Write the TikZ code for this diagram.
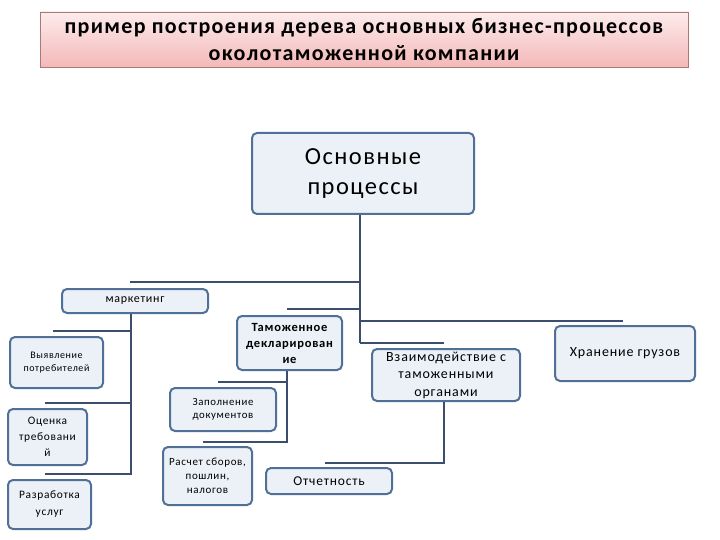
\documentclass[tikz,border=0pt]{standalone}
\usepackage{fontspec}
\setmainfont{Carlito}[LetterSpace=6]
\definecolor{boxline}{RGB}{80,112,152}
\definecolor{boxfill}{RGB}{236,241,248}
\definecolor{conncol}{RGB}{60,78,110}
\definecolor{titletop}{RGB}{253,236,236}
\definecolor{titlebot}{RGB}{244,184,184}
\definecolor{titleline}{RGB}{170,120,120}
\tikzset{
  box/.style={draw=boxline, line width=2pt, rounded corners=5pt, fill=boxfill, align=center, inner sep=0pt},
  conn/.style={draw=conncol, line width=2pt}
}
\begin{document}
\begin{tikzpicture}[x=1pt,y=-1pt]
\useasboundingbox (0,0) rectangle (720,540);
% title
\node[draw=titleline, line width=0.6pt, top color=titletop, bottom color=titlebot, minimum width=648pt, minimum height=55pt, align=center, inner sep=0pt,
      font=\fontsize{22}{27}\selectfont\bfseries] (title) at (364,39.5)
  {пример построения дерева основных бизнес-процессов\\околотаможенной компании};
% main
\node[box, minimum width=222pt, minimum height=81pt, font=\fontsize{24.5}{30}\selectfont] (main) at (363,173.5) {Основные\\процессы};
% level 1
\node[box, minimum width=146pt, minimum height=24pt, font=\fontsize{12}{14}\selectfont] (mark) at (135,301) {маркетинг};
\node[box, minimum width=105pt, minimum height=54pt, font=\fontsize{12.5}{16}\selectfont\bfseries] (tam) at (289.5,343) {Таможенное\\декларирован\\ие};
\node[box, minimum width=148pt, minimum height=52pt, font=\fontsize{14}{17.5}\selectfont] (vzaim) at (446,375) {Взаимодействие с\\таможенными\\органами};
\node[box, minimum width=140pt, minimum height=55pt, font=\fontsize{14}{16}\selectfont] (hran) at (625,353.5) {Хранение грузов};
% marketing children
\node[box, minimum width=93pt, minimum height=51pt, font=\fontsize{10}{13}\selectfont] (vyav) at (56.5,362.5) {Выявление\\потребителей};
\node[box, minimum width=79pt, minimum height=56pt, font=\fontsize{11.4}{16}\selectfont] (ocen) at (47.5,437) {Оценка\\требовани\\й};
\node[box, minimum width=83pt, minimum height=49pt, font=\fontsize{11.4}{17}\selectfont] (razr) at (49.5,504.5) {Разработка\\услуг};
% customs children
\node[box, minimum width=106pt, minimum height=43pt, font=\fontsize{10.8}{13}\selectfont] (zap) at (223,409.5) {Заполнение\\документов};
\node[box, minimum width=89pt, minimum height=58pt, font=\fontsize{11}{14}\selectfont] (rasch) at (207.5,476) {Расчет сборов,\\пошлин,\\налогов};
\node[box, minimum width=126pt, minimum height=26pt, font=\fontsize{13.5}{15}\selectfont] (otch) at (329,481) {Отчетность};
% junction coordinates
\coordinate (tA) at (main.south -| 360,0);
\coordinate (tB) at (360,343);
\coordinate (m1) at (130,282);
\coordinate (m2) at (287,309);
\coordinate (m3) at (623,321);
\coordinate (m4) at (444,343);
\coordinate (mk0) at (mark.south -| 131,0);
\coordinate (mk1) at (53,331);
\coordinate (mk2) at (45,403);
\coordinate (mk3) at (45,474);
\coordinate (tm0) at (tam.south -| 287,0);
\coordinate (tm1) at (218,382);
\coordinate (tm2) at (203,442);
\coordinate (vz0) at (vzaim.south -| 444,0);
\coordinate (vz1) at (325,463);
% connectors
\draw[conn] (tA) -- (tB);
\draw[conn] (m1) -- (m1 -| tA);
\draw[conn] (m2) -- (m2 -| tA);
\draw[conn] (m3) -- (m3 -| tA);
\draw[conn] (m4) -- (m4 -| tA);
\draw[conn] (mk0) -- (mk0 |- mk3) -- (mk3);
\draw[conn] (mk1) -- (mk1 -| mk0);
\draw[conn] (mk2) -- (mk2 -| mk0);
\draw[conn] (tm0) -- (tm0 |- tm2) -- (tm2);
\draw[conn] (tm1) -- (tm1 -| tm0);
\draw[conn] (vz0) -- (vz0 |- vz1) -- (vz1);
\end{tikzpicture}
\end{document}
